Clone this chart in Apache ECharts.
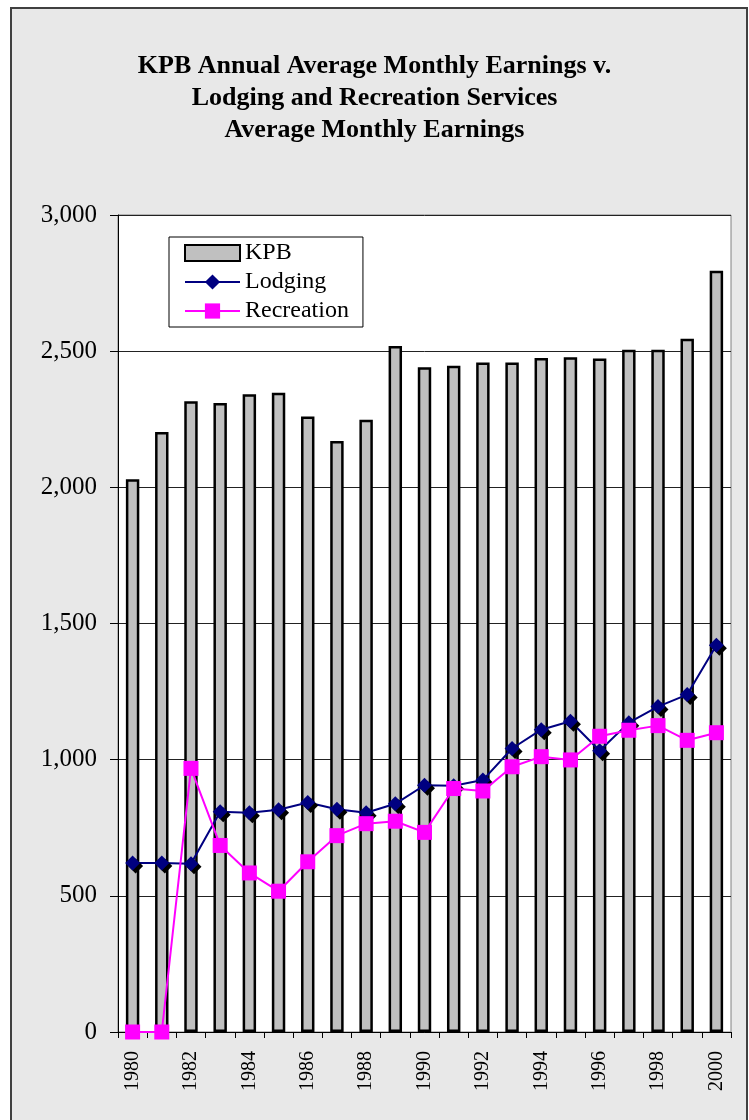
<!DOCTYPE html>
<html>
<head>
<meta charset="utf-8">
<script src="https://cdn.jsdelivr.net/npm/echarts@6/dist/echarts.min.js"></script>
<style>
  html, body { margin: 0; padding: 0; background: #ffffff; }
  #frame { position: absolute; left: 10px; top: 7px; width: 734px; height: 1125px;
           background: #e8e8e8; border: 2px solid #404040; z-index: 0; }
  #chart { position: absolute; left: 0; top: 0; width: 749px; height: 1120px; z-index: 1; }
</style>
</head>
<body>
<div id="frame"></div>
<div id="chart"></div>
<script>
const years = ['1980','1981','1982','1983','1984','1985','1986','1987','1988','1989','1990',
               '1991','1992','1993','1994','1995','1996','1997','1998','1999','2000'];
const kpb = [2030, 2203, 2316, 2310, 2342, 2347, 2260, 2170, 2248, 2519, 2441,
             2446, 2458, 2458, 2475, 2478, 2473, 2505, 2505, 2546, 2795];
const lodging = [621, 621, 618, 809, 805, 816, 843, 818, 805, 838, 906,
                 904, 925, 1041, 1110, 1141, 1033, 1136, 1195, 1239, 1420];
const recreation = [0, 0, 968, 685, 584, 517, 625, 721, 765, 774, 733,
                    894, 885, 974, 1011, 999, 1086, 1108, 1125, 1071, 1099];
const titleText = 'KPB Annual Average Monthly Earnings v.\nLodging and Recreation Services\nAverage Monthly Earnings';

const FONT = '"Liberation Serif", "Times New Roman", serif';
const ICON_KPB = 'path://M0 0L55 0L55 16L0 16Z';

const chart = echarts.init(document.getElementById('chart'), null, { renderer: 'canvas' });
chart.setOption({
  backgroundColor: 'transparent',
  animation: false,
  title: {
    text: titleText,
    left: 'center',
    top: 45,
    textStyle: { fontFamily: FONT, fontWeight: 'bold', fontSize: 26, lineHeight: 32, color: '#000' }
  },
  legend: {
    orient: 'vertical',
    left: 169, top: 237,
    padding: [4, 14, 4, 15],
    itemGap: 5,
    itemWidth: 55, itemHeight: 19,
    symbolKeepAspect: true,
    backgroundColor: '#fff',
    borderColor: '#000', borderWidth: 1, borderRadius: 0,
    textStyle: { fontFamily: FONT, fontSize: 24, lineHeight: 24, color: '#000' },
    itemStyle: { shadowBlur: 0, shadowOffsetX: 0, shadowOffsetY: 0, shadowColor: 'transparent' },
    data: [
      { name: 'KPB', icon: ICON_KPB },
      { name: 'Lodging' },
      { name: 'Recreation' }
    ]
  },
  grid: {
    left: 118, right: 18, top: 215, bottom: 88,
    show: true, backgroundColor: '#fff', borderColor: '#808080', borderWidth: 1
  },
  xAxis: {
    type: 'category',
    data: years,
    boundaryGap: true,
    axisLine: { lineStyle: { color: '#000', width: 1 } },
    axisTick: { show: true, interval: 0, length: 6, lineStyle: { color: '#000' } },
    axisLabel: { interval: 1, rotate: 90, margin: 19, fontFamily: FONT, fontSize: 20, color: '#000' }
  },
  yAxis: {
    type: 'value',
    min: 0, max: 3000, interval: 500,
    axisLine: { show: true, lineStyle: { color: '#000', width: 1 } },
    axisTick: { show: true, length: 8, lineStyle: { color: '#000' } },
    axisLabel: { margin: 21, fontFamily: FONT, fontSize: 25, color: '#000',
                 formatter: v => v.toLocaleString('en-US') },
    splitLine: { show: true, lineStyle: { color: '#222', width: 1 } }
  },
  series: [
    {
      name: 'KPB', type: 'bar', data: kpb, barWidth: '46%',
      itemStyle: { color: '#c0c0c0', borderColor: '#000', borderWidth: 2.5 }
    },
    {
      name: 'Lodging', type: 'line', data: lodging, z: 3,
      symbol: 'diamond', symbolSize: 15,
      lineStyle: { color: '#000080', width: 2 },
      itemStyle: { color: '#000080', shadowColor: '#000', shadowBlur: 0, shadowOffsetX: 3, shadowOffsetY: 3 }
    },
    {
      name: 'Recreation', type: 'line', data: recreation, z: 4,
      symbol: 'rect', symbolSize: 15,
      lineStyle: { color: '#ff00ff', width: 2 },
      itemStyle: { color: '#ff00ff' }
    }
  ]
});
</script>
</body>
</html>
